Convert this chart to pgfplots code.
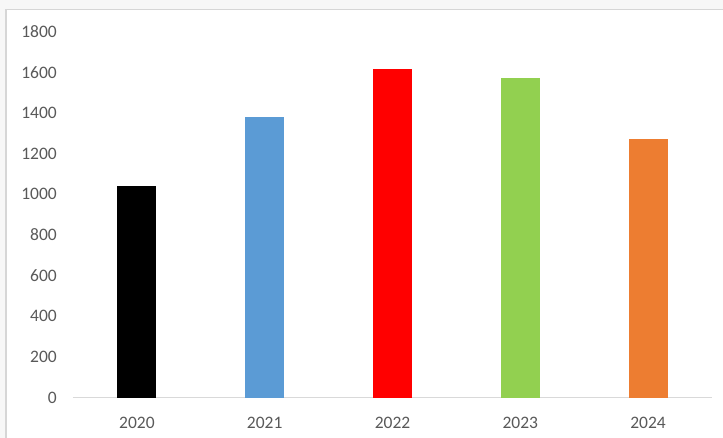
\documentclass[border=0pt]{standalone}
\usepackage{fontspec}
\setmainfont{Carlito}
\usepackage{pgfplots}
\pgfplotsset{compat=1.18}
\definecolor{txtgray}{HTML}{595959}
\definecolor{axgray}{HTML}{D9D9D9}
\definecolor{bgray}{HTML}{F7F7F7}
\definecolor{frame}{HTML}{D6D6D6}
\definecolor{cBlue}{HTML}{5B9BD5}
\definecolor{cRed}{HTML}{FF0000}
\definecolor{cGreen}{HTML}{92D050}
\definecolor{cOrange}{HTML}{ED7D31}
\begin{document}
\begin{tikzpicture}[x=1pt,y=1pt]
  \path[use as bounding box] (0,0) rectangle (723,438);
  \fill[bgray] (0,0) rectangle (723,438);
  \filldraw[fill=white,draw=frame,line width=1.2pt] (6,-2) rectangle (726,428.5);
  \begin{axis}[
    at={(73pt,40.3pt)}, anchor=south west,
    scale only axis, width=639pt, height=366pt,
    xmin=-0.5, xmax=4.5, ymin=0, ymax=1800,
    ybar, bar width=39pt, bar shift=0pt,
    xtick={0,1,2,3,4},
    xticklabels={2020,2021,2022,2023,2024},
    ytick={0,200,...,1800},
    axis lines*=left,
    x axis line style={axgray, line width=1pt, -},
    y axis line style={draw=none},
    major tick length=0pt,
    tick label style={font=\fontsize{17.5}{20}\selectfont, text=txtgray},
    /pgf/number format/assume math mode=true,
    /pgf/number format/1000 sep={},
    xticklabel style={anchor=north, inner sep=0pt, yshift=-19pt},
    yticklabel style={anchor=east, inner sep=0pt, xshift=-16pt},
    clip=false,
  ]
    \addplot[fill=black, draw=none] coordinates {(0,1043)};
    \addplot[fill=cBlue, draw=none] coordinates {(1,1380)};
    \addplot[fill=cRed, draw=none] coordinates {(2,1617)};
    \addplot[fill=cGreen, draw=none] coordinates {(3,1571)};
    \addplot[fill=cOrange, draw=none] coordinates {(4,1271)};
  \end{axis}
\end{tikzpicture}
\end{document}
